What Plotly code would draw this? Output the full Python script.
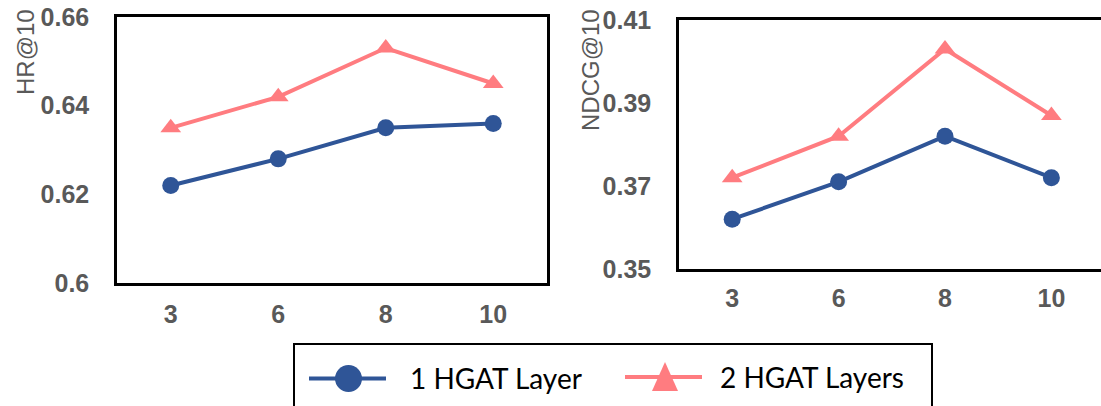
import plotly.graph_objects as go

W, H = 1101, 406

categories = ["3", "6", "8", "10"]
hr_1layer = [0.622, 0.628, 0.635, 0.636]
hr_2layers = [0.635, 0.642, 0.653, 0.645]
ndcg_1layer = [0.362, 0.371, 0.382, 0.372]
ndcg_2layers = [0.372, 0.382, 0.403, 0.387]
hr_ticks = [0.6, 0.62, 0.64, 0.66]
hr_ticktext = ["0.6", "0.62", "0.64", "0.66"]
ndcg_ticks = [0.35, 0.37, 0.39, 0.41]
ndcg_ticktext = ["0.35", "0.37", "0.39", "0.41"]
series_names = ["1 HGAT Layer", "2 HGAT Layers"]

BLUE = "#2F5597"
PINK = "#FF7C80"
GRAY = "#595959"


def X(px):
    return px / W


def Y(py):
    return 1 - py / H


fig = go.Figure()

for xa, ya, s1, s2 in [("x", "y", hr_1layer, hr_2layers), ("x2", "y2", ndcg_1layer, ndcg_2layers)]:
    fig.add_trace(go.Scatter(x=categories, y=s1, mode="lines+markers", name=series_names[0],
                             line=dict(color=BLUE, width=4),
                             marker=dict(symbol="circle", size=17, color=BLUE),
                             xaxis=xa, yaxis=ya, showlegend=False))
    fig.add_trace(go.Scatter(x=categories, y=s2, mode="lines+markers", name=series_names[1],
                             line=dict(color=PINK, width=4),
                             marker=dict(symbol="triangle-up", size=18, color=PINK),
                             xaxis=xa, yaxis=ya, showlegend=False))

tickfont = dict(family="Liberation Sans, Arial, sans-serif", size=25, color=GRAY, weight="bold")

fig.update_layout(
    width=W, height=H,
    margin=dict(l=0, r=0, t=0, b=0),
    paper_bgcolor="white", plot_bgcolor="white",
    xaxis=dict(domain=[X(117), X(547)], type="category", range=[-0.5, 3.5],
               showline=True, mirror=True, linecolor="black", linewidth=2.5,
               showgrid=False, ticks="", tickfont=tickfont, ticklabelstandoff=7,
               automargin=False, anchor="y"),
    yaxis=dict(domain=[Y(283), Y(17)], range=[0.6, 0.66], tickvals=hr_ticks, ticktext=hr_ticktext,
               showline=True, mirror=True, linecolor="black", linewidth=2.5,
               showgrid=False, zeroline=False, ticks="", tickfont=tickfont, ticklabelstandoff=20,
               automargin=False, anchor="x"),
    xaxis2=dict(domain=[X(679), 1.0], type="category", range=[-0.5, -0.5 + (1101 - 679) / 106.4],
                showline=True, mirror=True, linecolor="black", linewidth=2.5,
                showgrid=False, ticks="", tickfont=tickfont, ticklabelstandoff=5,
                automargin=False, anchor="y2"),
    yaxis2=dict(domain=[Y(269), Y(20)], range=[0.35, 0.41], tickvals=ndcg_ticks, ticktext=ndcg_ticktext,
                showline=True, mirror=False, linecolor="black", linewidth=2.5,
                showgrid=False, zeroline=False, ticks="", tickfont=tickfont, ticklabelstandoff=20,
                automargin=False, anchor="x2"),
    showlegend=False,
)

titlefont = dict(family="Liberation Sans, Arial, sans-serif", size=24, color=GRAY)
fig.add_annotation(text="HR@10", x=X(25), y=Y(7), xref="paper", yref="paper", textangle=-90,
                   xanchor="center", yanchor="top", showarrow=False, font=titlefont)
fig.add_annotation(text="NDCG@10", x=X(590), y=Y(7), xref="paper", yref="paper", textangle=-90,
                   xanchor="center", yanchor="top", showarrow=False, font=titlefont)

# legend box drawn manually (to match large symbols)
shapes = [
    dict(type="rect", xref="paper", yref="paper", x0=X(294), x1=X(932), y0=Y(430), y1=Y(344),
         line=dict(color="black", width=2), fillcolor="rgba(0,0,0,0)"),
    dict(type="line", xref="paper", yref="paper", x0=X(309), x1=X(386), y0=Y(378.5), y1=Y(378.5),
         line=dict(color=BLUE, width=4)),
    dict(type="circle", xref="paper", yref="paper", x0=X(335), x1=X(362), y0=Y(392), y1=Y(365),
         line=dict(color=BLUE, width=0), fillcolor=BLUE),
    dict(type="line", xref="paper", yref="paper", x0=X(625), x1=X(702), y0=Y(377), y1=Y(377),
         line=dict(color=PINK, width=4)),
    dict(type="path", xref="paper", yref="paper",
         path=f"M {X(665)} {Y(362)} L {X(678)} {Y(391)} L {X(652)} {Y(391)} Z",
         line=dict(color=PINK, width=0), fillcolor=PINK),
]
fig.update_layout(shapes=shapes)

legfont = dict(family="Lato, Open Sans, sans-serif", size=28, color="black")
fig.add_annotation(text=series_names[0], x=X(408), y=Y(378), xref="paper", yref="paper",
                   xanchor="left", yanchor="middle", showarrow=False, font=legfont)
fig.add_annotation(text=series_names[1], x=X(718), y=Y(377), xref="paper", yref="paper",
                   xanchor="left", yanchor="middle", showarrow=False, font=legfont)

fig.write_html("out.html")
